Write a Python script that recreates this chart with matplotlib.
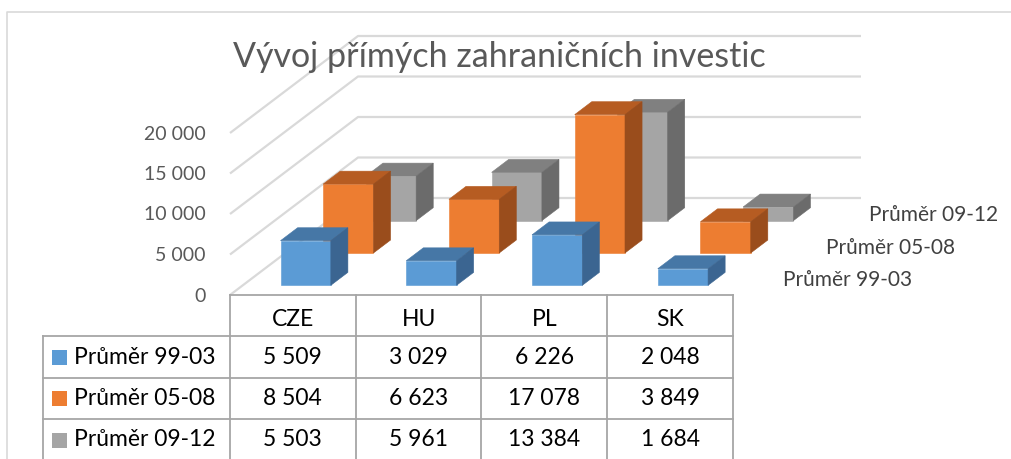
import matplotlib.pyplot as plt
from matplotlib.patches import Polygon, Rectangle

# data
countries = ["CZE", "HU", "PL", "SK"]
series_names = ["Průměr 99-03", "Průměr 05-08", "Průměr 09-12"]
avg_99_03 = [5509, 3029, 6226, 2048]
avg_05_08 = [8504, 6623, 17078, 3849]
avg_09_12 = [5503, 5961, 13384, 1684]
value_ticks = [0, 5000, 10000, 15000, 20000]
tick_labels = ["0", "5 000", "10 000", "15 000", "20 000"]

series_values = [avg_99_03, avg_05_08, avg_09_12]
# front, top, side shades per series
shades = [
    ("#5b9bd5", "#4677a6", "#3b6591"),
    ("#ed7d31", "#b65c22", "#9a4d1c"),
    ("#a5a5a5", "#808080", "#6b6b6b"),
]

FONT = "Lato"
GRID = "#d9d9d9"
TABLE_LINE = "#a6a6a6"

# oblique projection of the 3D plot area (pixel space)
X0, Y0 = 230, 295          # front-left corner of the floor
CAT_W = 125.75             # width of one category slot
DX, DY = 128, -97          # offset for the full depth
K = (295 - 133) / 20000    # pixels per unit of value


def proj(cat, depth, value):
    return (X0 + cat * CAT_W + depth * DX, Y0 + depth * DY - value * K)


def fmt(v):
    return f"{v:,}".replace(",", " ")


fig = plt.figure(figsize=(10.12, 4.59), dpi=100)
ax = fig.add_axes([0, 0, 1, 1])
ax.set_xlim(0, 1012)
ax.set_ylim(459, 0)
ax.axis("off")

# chart border
ax.plot([7, 7, 1012], [459, 12, 12], color=GRID, lw=1.2, zorder=0)

# walls: gridlines on side wall + back wall
n_cat = len(countries)
for t in value_ticks:
    pts = [proj(0, 0, t), proj(0, 1, t), proj(n_cat, 1, t)]
    ax.plot([p[0] for p in pts], [p[1] for p in pts], color=GRID, lw=1.6,
            zorder=1, solid_capstyle="butt")
for t, lab in zip(value_ticks, tick_labels):
    ax.text(X0 - 24, proj(0, 0, t)[1] + 1, lab, ha="right", va="center",
            fontsize=14, color="#595959", family=FONT)

# bars, back row first
n_rows = len(series_values)
for r in reversed(range(n_rows)):
    front, top, side = shades[r]
    d0, d1 = (r + 0.3) / n_rows, (r + 0.7) / n_rows
    for i, v in enumerate(series_values[r]):
        c0, c1 = i + 0.3, i + 0.7
        faces = [
            ([proj(c0, d0, 0), proj(c1, d0, 0), proj(c1, d0, v), proj(c0, d0, v)], front),
            ([proj(c0, d0, v), proj(c1, d0, v), proj(c1, d1, v), proj(c0, d1, v)], top),
            ([proj(c1, d0, 0), proj(c1, d1, 0), proj(c1, d1, v), proj(c1, d0, v)], side),
        ]
        for poly, col in faces:
            ax.add_patch(Polygon(poly, closed=True, facecolor=col, edgecolor=col,
                                 lw=0.4, zorder=2))
    # depth axis label
    lx, ly = proj(n_cat, (r + 0.5) / n_rows, 0)
    ax.text(lx + 29, ly + 1, series_names[r], ha="left", va="center",
            fontsize=15, color="#404040", family=FONT)

# title
ax.text(499, 57, "Vývoj přímých zahraničních investic", ha="center", va="center",
        fontsize=24.5, color="#595959", family=FONT, zorder=3)

# data table
row_top = [295, 336, 378, 419, 461]
leg_x0 = 43
col_x = [X0 + i * CAT_W for i in range(n_cat + 1)]
tl = dict(color=TABLE_LINE, lw=1.3, zorder=4)
ax.plot([col_x[0], col_x[-1]], [row_top[0]] * 2, **tl)
for y in row_top[1:]:
    ax.plot([leg_x0, col_x[-1]], [y, y], **tl)
for x in col_x:
    ax.plot([x, x], [row_top[0], row_top[-1]], **tl)
ax.plot([leg_x0, leg_x0], [row_top[1], row_top[-1]], **tl)

for i, name in enumerate(countries):
    cx = (col_x[i] + col_x[i + 1]) / 2
    ax.text(cx, 320, name, ha="center", va="center", fontsize=16.5,
            color="black", family=FONT)

for r, (name, vals) in enumerate(zip(series_names, series_values)):
    cy = (row_top[r + 1] + row_top[r + 2]) / 2
    ax.add_patch(Rectangle((52, cy - 7.5), 15, 15, facecolor=shades[r][0],
                           edgecolor="none", zorder=4))
    ax.text(74, cy, name, ha="left", va="center", fontsize=16.5,
            color="black", family=FONT)
    for i, v in enumerate(vals):
        cx = (col_x[i] + col_x[i + 1]) / 2
        ax.text(cx, cy, fmt(v), ha="center", va="center", fontsize=16.5,
                color="black", family=FONT)

fig.savefig("out.png", dpi=100)
